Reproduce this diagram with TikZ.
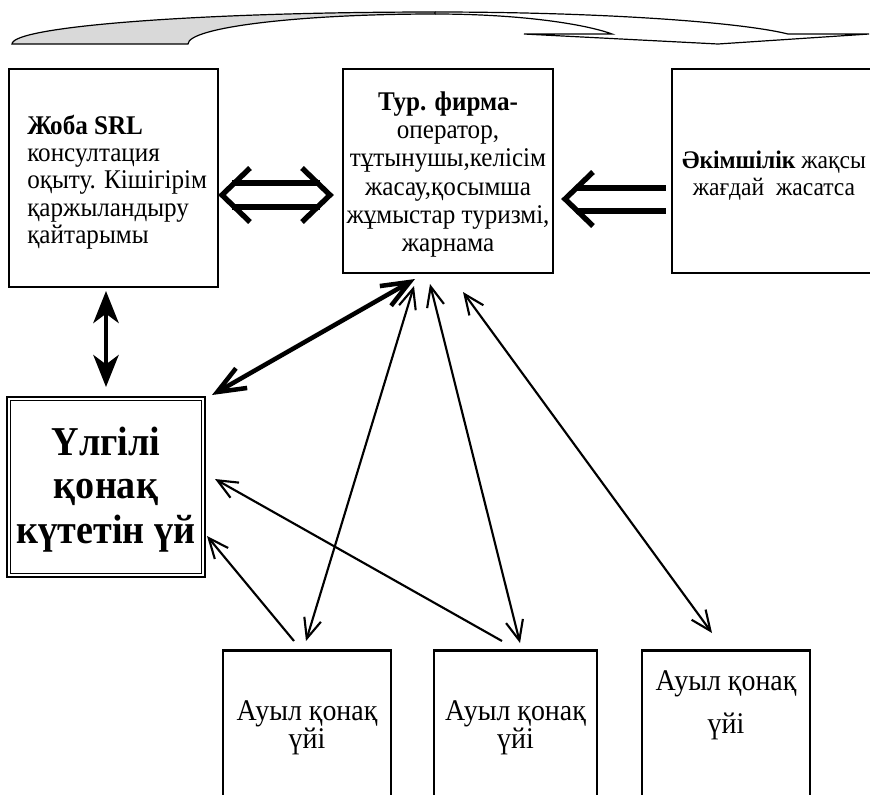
\documentclass[tikz,border=0pt]{standalone}
\usepackage{fontspec}
\setmainfont{Liberation Serif}[FakeStretch=0.93]
\usetikzlibrary{arrows.meta,calc}
\definecolor{ribbon}{HTML}{D9D9D9}
\begin{document}
\begin{tikzpicture}[x=0.75pt,y=-0.75pt,
  box/.style={draw, line width=1.7pt, inner sep=0pt},
  txt/.style={inner sep=0pt, anchor=base, font=\fontsize{20.25pt}{22pt}\selectfont},
  txtl/.style={txt, anchor=base west},
  txtr/.style={txt, font=\fontsize{19pt}{21pt}\selectfont},
  txtb/.style={txt, font=\fontsize{22.5pt}{24pt}\selectfont},
  txtu/.style={inner sep=0pt, anchor=base, font=\fontsize{30.75pt}{32pt}\selectfont\bfseries},
  thinarrow/.style={line width=1.6pt, {Straight Barb[length=15pt,width=13pt]}-{Straight Barb[length=15pt,width=13pt]}},
  thinone/.style={line width=1.6pt, -{Straight Barb[length=15pt,width=13pt]}},
  thickdiag/.style={line width=3.4pt, {Straight Barb[length=21pt,width=17pt]}-{Straight Barb[length=21pt,width=17pt]}},
  vertarrow/.style={line width=3.2pt, {Stealth[length=24pt,width=19pt,inset=7pt]}-{Stealth[length=24pt,width=19pt,inset=7pt]}},
  fat/.style={line width=4pt, line join=miter, line cap=butt},
  ribbonline/.style={line width=0.9pt, line join=miter}
]
\path[use as bounding box] (0,0) rectangle (870,794);
\clip (0,0) rectangle (870,794);

% top curved ribbon arrow
\filldraw[ribbonline, fill=ribbon] (12,44) .. controls (12,26.3) and (201.4,12) .. (435,12)
  -- (435,14) .. controls (299,14) and (188,27.4) .. (188,44) -- cycle;
\draw[ribbonline] (435,12) .. controls (600,12) and (740,22) .. (788,34) -- (869,34)
  -- (718,44) -- (524,34) -- (612,34) .. controls (585,24) and (520,14) .. (435,14);

% boxes
\node[box, minimum width=156.75pt, minimum height=163.5pt] (L) at (113.5,178) {};
\node[box, minimum width=157.5pt, minimum height=153pt] (C) at (448,171) {};
\node[box, minimum width=163.5pt, minimum height=153pt] (R) at (781,171) {};
\node[draw, line width=2.2pt, inner sep=0pt, minimum width=148.5pt, minimum height=135pt] (U) at (106,487) {};
\draw[line width=0.8pt] ([shift={(5,5)}]U.north west) rectangle ([shift={(-5,-5)}]U.south east);
\node[box, minimum width=126pt, minimum height=134.25pt] (B1) at (307,740) {};
\node[box, minimum width=122.25pt, minimum height=134.25pt] (B2) at (515.5,740) {};
\node[box, minimum width=126pt, minimum height=134.25pt] (B3) at (726,740) {};

% texts
\node[txtl] (L1) at (27,134) {\textbf{Жоба SRL}};
\node[txtl] (L2) at (27,161) {консултация};
\node[txtl] (L3) at (27,188) {оқыту. Кішігірім};
\node[txtl] (L4) at (27,216) {қаржыландыру};
\node[txtl] (L5) at (27,243) {қайтарымы};

\node[txt] (C1) at (448,110) {\textbf{Тур. фирма-}};
\node[txt] (C2) at (448,138) {оператор,};
\node[txt] (C3) at (448,166) {тұтынушы,келісім};
\node[txt] (C4) at (448,195) {жасау,қосымша};
\node[txt] (C5) at (448,223) {жұмыстар туризмі,};
\node[txt] (C6) at (448,251) {жарнама};

\node[txtr] (R1) at (774,168) {\textbf{Әкімшілік} жақсы};
\node[txtr] (R2) at (774,195) {жағдай\ \ жасатса};

\node[txtu] (U1) at (106,455) {Үлгілі};
\node[txtu] (U2) at (106,498) {қонақ};
\node[txtu] (U3) at (106,543) {күтетін үй};

\node[txtb] (B1a) at (307,720) {Ауыл қонақ};
\node[txtb] (B1b) at (307,748) {үйі};
\node[txtb] (B2a) at (515.5,720) {Ауыл қонақ};
\node[txtb] (B2b) at (515.5,748) {үйі};
\node[txtb] (B3a) at (726,690) {Ауыл қонақ};
\node[txtb] (B3b) at (726,733) {үйі};

% fat double arrow between L and C
\coordinate (dl) at (222,195);
\coordinate (dr) at (330,195);
\draw[fat] (232,183) -- (320,183) (232,207) -- (320,207);
\draw[fat] ($(dl)+(28,-27)$) -- (dl) -- ($(dl)+(28,27)$);
\draw[fat] ($(dr)+(-28,-27)$) -- (dr) -- ($(dr)+(-28,27)$);

% fat arrow from R to C
\coordinate (ll) at (565,199);
\draw[fat] (576,188) -- (666,188) (576,211) -- (666,211);
\draw[fat] ($(ll)+(28,-27)$) -- (ll) -- ($(ll)+(28,27)$);

% vertical arrow L <-> U
\coordinate (v1) at (106,291);
\coordinate (v2) at (106,387);
\draw[vertarrow] (v1) -- (v2);

% thick diagonal U <-> C
\coordinate (t1) at (212,395);
\coordinate (t2) at (415,279);
\draw[thickdiag] (t1) -- (t2);

% thin arrows
\coordinate (a1s) at (294,641); \coordinate (a1e) at (207,536);
\coordinate (a2s) at (306,641); \coordinate (a2e) at (414,286);
\coordinate (a3s) at (502,641); \coordinate (a3e) at (215,479);
\coordinate (a4s) at (520,643); \coordinate (a4e) at (430,284);
\coordinate (a5s) at (712,633); \coordinate (a5e) at (463,292);
\draw[thinone] (a1s) -- (a1e);
\draw[thinarrow] (a2s) -- (a2e);
\draw[thinone] (a3s) -- (a3e);
\draw[thinarrow] (a4s) -- (a4e);
\draw[thinarrow] (a5s) -- (a5e);
\end{tikzpicture}
\end{document}
